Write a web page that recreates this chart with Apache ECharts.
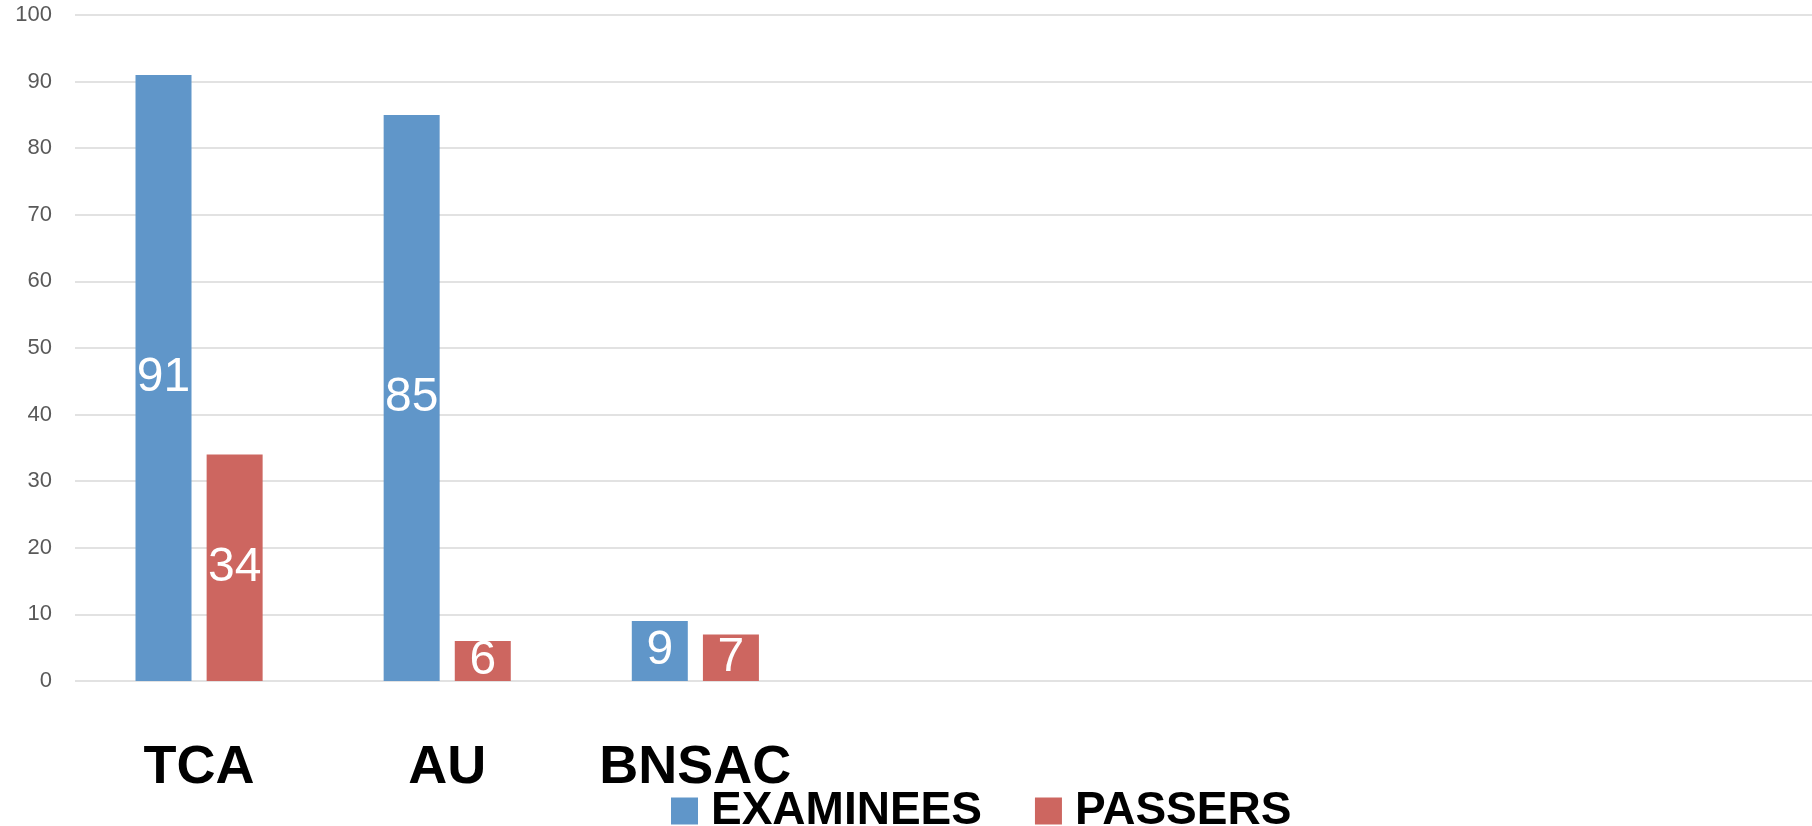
<!DOCTYPE html>
<html>
<head>
<meta charset="utf-8">
<script src="https://cdn.jsdelivr.net/npm/echarts@6/dist/echarts.min.js"></script>
<style>
  html, body { margin: 0; padding: 0; background: #fff; }
  #chart { width: 1812px; height: 826px; }
</style>
</head>
<body>
<div id="chart"></div>
<script>
// categories (the last four slots are empty in the original chart)
const categories = ['TCA', 'AU', 'BNSAC', '', '', '', '']
const examinees = [91, 85, 9, null, null, null, null]
const passers = [34, 6, 7, null, null, null, null]
const seriesNames = ['EXAMINEES', 'PASSERS']

const chart = echarts.init(document.getElementById('chart'))

const barLabel = {
  show: true,
  position: 'inside',
  color: '#fff',
  fontSize: 48,
  fontFamily: '"Liberation Sans Narrow", "Liberation Sans", Arial, sans-serif'
}

const option = {
  animation: false,
  grid: { left: 75, right: 0, top: 15, bottom: 145 },
  legend: {
    left: 666,
    top: 783,
    itemWidth: 27,
    itemHeight: 27,
    itemGap: 53,
    icon: 'rect',
    data: seriesNames,
    textStyle: {
      fontSize: 46,
      fontWeight: 'bold',
      color: '#000',
      fontFamily: '"Liberation Sans", Arial, sans-serif',
      padding: [0, 0, 0, 8]
    }
  },
  xAxis: {
    type: 'category',
    data: categories,
    axisLine: { show: false },
    axisTick: { show: false },
    axisLabel: {
      margin: 60,
      fontSize: 54,
      fontWeight: 'bold',
      color: '#000',
      fontFamily: '"Liberation Sans", Arial, sans-serif',
      interval: 0
    }
  },
  yAxis: {
    type: 'value',
    min: 0,
    max: 100,
    interval: 10,
    axisLine: { show: false },
    axisTick: { show: false },
    axisLabel: {
      margin: 23,
      fontSize: 22,
      color: '#595959',
      fontFamily: '"Liberation Sans", Arial, sans-serif'
    },
    splitLine: { lineStyle: { color: '#d9d9d9', width: 1.5 } }
  },
  series: [
    {
      name: seriesNames[0],
      type: 'bar',
      data: examinees,
      barWidth: 56,
      barGap: '27%',
      itemStyle: { color: '#6096c9' },
      label: barLabel
    },
    {
      name: seriesNames[1],
      type: 'bar',
      data: passers,
      barWidth: 56,
      barGap: '27%',
      itemStyle: { color: '#cd6660' },
      label: barLabel
    }
  ]
}

chart.setOption(option)
</script>
</body>
</html>
